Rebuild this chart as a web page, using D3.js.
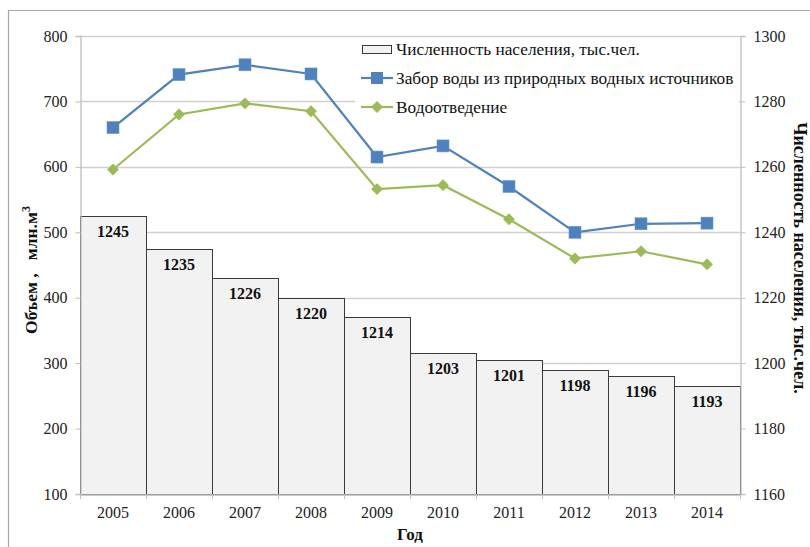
<!DOCTYPE html>
<html><head><meta charset="utf-8">
<script src="https://cdn.jsdelivr.net/npm/d3@7"></script>
<style>body{margin:0;background:#fff}svg{display:block}</style>
</head><body>
<svg id="c" width="810" height="547" font-family="Liberation Serif, serif"></svg>
<script>
const years = ["2005","2006","2007","2008","2009","2010","2011","2012","2013","2014"];
const population = [1245,1235,1226,1220,1214,1203,1201,1198,1196,1193];
const intake = [660,741,756,742,615,632,570,500,513,514];
const discharge = [596,680,697,685,566,572,520,460,471,451];
const leftTicks = [100,200,300,400,500,600,700,800];
const rightTicks = [1160,1180,1200,1220,1240,1260,1280,1300];
const legendLabels = ["Численность населения, тыс.чел.","Забор воды из природных водных источников","Водоотведение"];

const FF = "Liberation Serif, serif";
const svg = d3.select("#c");
const L=80,R=740,T=36,B=494;
const x = d3.scaleBand().domain(years).range([L,R]).padding(0);
const yL = d3.scaleLinear().domain([100,800]).range([B,T]);
const yR = d3.scaleLinear().domain([1160,1300]).range([B,T]);
const grid="#d0d0d0", axc="#bfbfbf";

// outer border
svg.append("path").attr("d","M8.5,547 V10.5 H810").attr("fill","none").attr("stroke","#a6a6a6").attr("stroke-width",1.2);

// gridlines
svg.append("g").selectAll("line").data(leftTicks).join("line")
  .attr("x1",L).attr("x2",R).attr("y1",d=>Math.round(yL(d))+0.5).attr("y2",d=>Math.round(yL(d))+0.5)
  .attr("stroke",grid).attr("stroke-width",1.3);

// bars
svg.append("g").selectAll("rect").data(population).join("rect")
  .attr("x",(d,i)=>x(years[i])+0.5).attr("width",x.bandwidth())
  .attr("y",d=>Math.round(yR(d))+0.5).attr("height",d=>B-Math.round(yR(d)))
  .attr("fill","#f2f2f2").attr("stroke","#3a3a3a").attr("stroke-width",1);

svg.append("g").selectAll("text").data(population).join("text")
  .attr("x",(d,i)=>x(years[i])+x.bandwidth()/2).attr("y",d=>yR(d)+21)
  .attr("text-anchor","middle").attr("font-weight","bold").attr("font-size",16).attr("font-family",FF).attr("fill","#111")
  .text(d=>d);

// axes
const axL = svg.append("g").attr("transform",`translate(${L+0.5},0)`).call(d3.axisLeft(yL).tickValues(leftTicks).tickSize(5).tickPadding(8));
const axR = svg.append("g").attr("transform",`translate(${R+0.5},0)`).call(d3.axisRight(yR).tickValues(rightTicks).tickFormat(d3.format("d")).tickSize(5).tickPadding(8));
const axB = svg.append("g").attr("transform",`translate(0,${B+0.5})`).call(d3.axisBottom(x).tickSize(0).tickPadding(12));
[axL,axR,axB].forEach(a=>{a.attr("font-family",FF).attr("font-size",16);
  a.select(".domain").attr("stroke",axc).attr("stroke-width",1.3);a.selectAll(".tick line").attr("stroke",axc);
  a.selectAll("text").attr("fill","#222");});
// category boundary ticks
svg.append("g").selectAll("line").data(d3.range(years.length+1)).join("line")
  .attr("x1",i=>L+i*x.bandwidth()+0.5).attr("x2",i=>L+i*x.bandwidth()+0.5)
  .attr("y1",B).attr("y2",B+5).attr("stroke",axc);

// legend background
svg.append("rect").attr("x",355).attr("y",38).attr("width",384).attr("height",82).attr("fill","#fff");

// lines
const line = d3.line().x((d,i)=>x(years[i])+x.bandwidth()/2).y(d=>yL(d));
svg.append("path").datum(intake).attr("d",line).attr("fill","none").attr("stroke","#4f81bd").attr("stroke-width",2.2);
svg.append("path").datum(discharge).attr("d",line).attr("fill","none").attr("stroke","#9bbb59").attr("stroke-width",2.2);
svg.append("g").selectAll("rect").data(intake).join("rect")
  .attr("x",(d,i)=>x(years[i])+x.bandwidth()/2-6).attr("y",d=>yL(d)-6).attr("width",12).attr("height",12)
  .attr("fill","#4f81bd").attr("stroke","#6d98cc").attr("stroke-width",0.6);
const dia = d3.symbol().type(d3.symbolDiamond2).size(90);
svg.append("g").selectAll("path").data(discharge).join("path")
  .attr("transform",(d,i)=>`translate(${x(years[i])+x.bandwidth()/2},${yL(d)})`).attr("d",dia)
  .attr("fill","#9bbb59");

// legend
const lg = svg.append("g");
lg.append("rect").attr("x",362.5).attr("y",45.5).attr("width",29).attr("height",8).attr("fill","#f2f2f2").attr("stroke","#3a3a3a");
lg.append("line").attr("x1",361).attr("x2",393).attr("y1",78).attr("y2",78).attr("stroke","#4f81bd").attr("stroke-width",2.2);
lg.append("rect").attr("x",371).attr("y",72).attr("width",12).attr("height",12).attr("fill","#4f81bd");
lg.append("line").attr("x1",361).attr("x2",393).attr("y1",107).attr("y2",107).attr("stroke","#9bbb59").attr("stroke-width",2.2);
lg.append("path").attr("transform","translate(377,107)").attr("d",dia).attr("fill","#9bbb59");
lg.selectAll("text").data(legendLabels).join("text")
  .attr("x",396).attr("y",(d,i)=>55+i*29).attr("font-size",17.3).attr("font-family",FF).attr("fill","#111").text(d=>d);

// axis titles
svg.append("text").attr("transform",`translate(37,${(T+B)/2+5}) rotate(-90)`).attr("text-anchor","middle")
  .attr("font-weight","bold").attr("font-size",17.5).attr("font-family",FF).attr("fill","#111").attr("xml:space","preserve")
  .html('Объем ,&#160;&#160; млн.м<tspan dy="-7" font-size="12">3</tspan>');
svg.append("text").attr("transform",`translate(794,${(T+B)/2-7}) rotate(90)`).attr("text-anchor","middle")
  .attr("font-weight","bold").attr("font-size",18).attr("font-family",FF).attr("fill","#111").text("Численность населения, тыс.чел.");
svg.append("text").attr("x",410).attr("y",540).attr("text-anchor","middle")
  .attr("font-weight","bold").attr("font-size",17).attr("font-family",FF).attr("fill","#111").text("Год");
</script>
</body></html>
